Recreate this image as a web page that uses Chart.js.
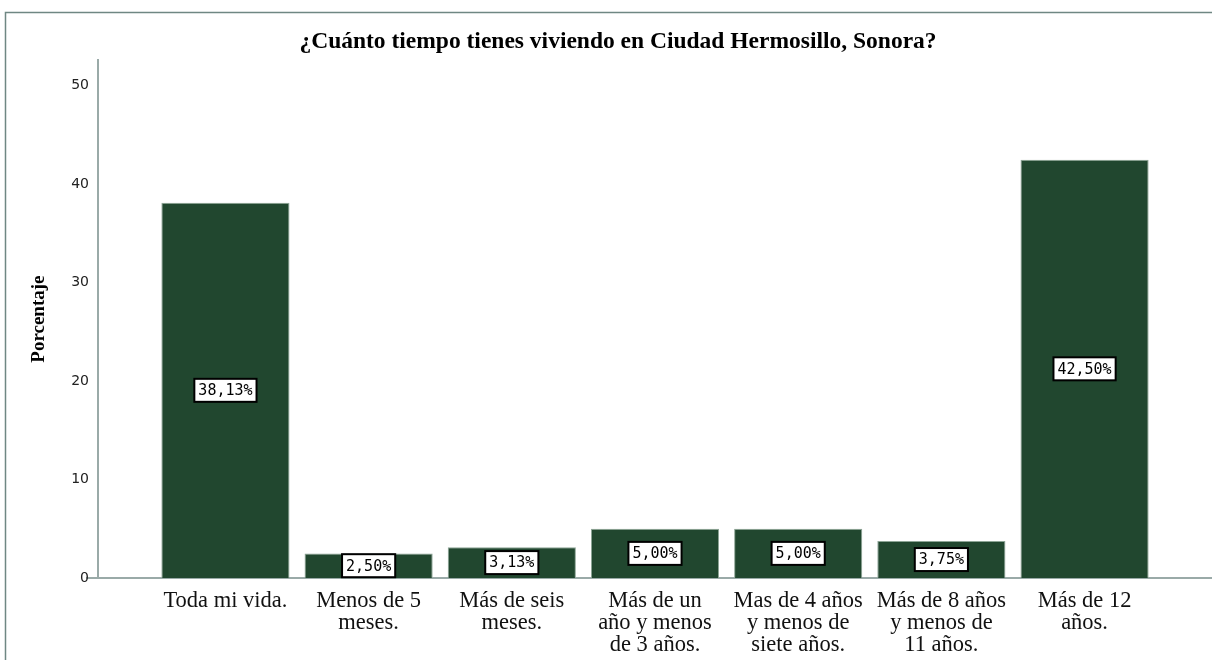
<!DOCTYPE html>
<html>
<head>
<meta charset="utf-8">
<script src="https://cdn.jsdelivr.net/npm/chart.js@4.4.1/dist/chart.umd.min.js"></script>
<style>
  html, body { margin: 0; padding: 0; background: #fff; }
  #wrap { width: 1212px; height: 660px; position: relative; }
</style>
</head>
<body>
<div id="wrap"><canvas id="myChart" width="1212" height="660"></canvas></div>
<script>
// data
var categories = [
  ['Toda mi vida.'],
  ['Menos de 5', 'meses.'],
  ['Más de seis', 'meses.'],
  ['Más de un', 'año y menos', 'de 3 años.'],
  ['Mas de 4 años', 'y menos de', 'siete años.'],
  ['Más de 8 años', 'y menos de', '11 años.'],
  ['Más de 12', 'años.']
];
var percentages = [38.13, 2.50, 3.13, 5.00, 5.00, 3.75, 42.50];
var yTicks = [0, 10, 20, 30, 40, 50];

// frame line around the chart (top and left sides visible)
var framePlugin = {
  id: 'frame',
  beforeDraw: function(chart) {
    var ctx = chart.ctx;
    ctx.save();
    ctx.strokeStyle = '#6f8783';
    ctx.lineWidth = 1.5;
    ctx.beginPath();
    ctx.moveTo(5.5, 660);
    ctx.lineTo(5.5, 12.5);
    ctx.lineTo(1212, 12.5);
    ctx.stroke();
    // little stub of the x axis left of the y axis
    ctx.strokeStyle = '#9aaaa8';
    ctx.lineWidth = 2;
    ctx.beginPath();
    ctx.moveTo(86, chart.chartArea.bottom);
    ctx.lineTo(chart.chartArea.left, chart.chartArea.bottom);
    ctx.stroke();
    ctx.restore();
  }
};

// white boxed percentage labels in the middle of each bar
var boxLabels = {
  id: 'boxLabels',
  afterDatasetsDraw: function(chart) {
    var ctx = chart.ctx;
    var meta = chart.getDatasetMeta(0);
    ctx.save();
    ctx.font = '15px "DejaVu Sans Mono"';
    ctx.textAlign = 'center';
    ctx.textBaseline = 'middle';
    meta.data.forEach(function(bar, i) {
      var text = percentages[i].toFixed(2).replace('.', ',') + '%';
      var w = ctx.measureText(text).width + 8;
      var h = 23;
      var cy = (bar.y + bar.base) / 2;
      ctx.fillStyle = '#ffffff';
      ctx.fillRect(bar.x - w / 2, cy - h / 2, w, h);
      ctx.strokeStyle = '#000000';
      ctx.lineWidth = 2;
      ctx.strokeRect(bar.x - w / 2, cy - h / 2, w, h);
      ctx.fillStyle = '#000000';
      ctx.fillText(text, bar.x, cy + 1);
    });
    ctx.restore();
  }
};

var ctx = document.getElementById('myChart').getContext('2d');
var myChart = new Chart(ctx, {
  type: 'bar',
  data: {
    datasets: [{
      label: 'Porcentaje',
      data: percentages.map(function(v, i) { return { x: i, y: v }; }),
      backgroundColor: '#21472f',
      borderColor: '#8da596',
      borderWidth: 1,
      borderSkipped: 'bottom',
      barPercentage: 0.895,
      categoryPercentage: 1
    }]
  },
  options: {
    responsive: false,
    animation: false,
    layout: { padding: { left: 24, right: 0, top: 0, bottom: 0 } },
    plugins: {
      legend: { display: false },
      tooltip: { enabled: false },
      title: {
        display: true,
        text: '¿Cuánto tiempo tienes viviendo en Ciudad Hermosillo, Sonora?',
        color: '#000',
        font: { family: '"Liberation Serif"', size: 23.5, weight: 'bold', lineHeight: 1.2 },
        padding: { top: 28, bottom: 4 }
      }
    },
    scales: {
      x: {
        type: 'linear',
        offset: false,
        min: -0.89,
        max: 6.89,
        afterBuildTicks: function(scale) {
          scale.ticks = categories.map(function(c, i) { return { value: i }; });
        },
        afterFit: function(scale) {
          scale.height = 82;
          scale.paddingLeft = 0;
          scale.paddingRight = 0;
        },
        grid: { display: false, offset: false },
        border: { display: true, color: '#9aaaa8', width: 2 },
        ticks: {
          autoSkip: false,
          maxRotation: 0,
          padding: 4,
          color: '#111',
          font: { family: '"Liberation Serif"', size: 22.5, lineHeight: '22px' },
          callback: function(v) { return categories[v]; }
        }
      },
      y: {
        min: 0,
        max: 52.6,
        afterBuildTicks: function(scale) {
          scale.ticks = yTicks.map(function(v) { return { value: v }; });
        },
        afterFit: function(scale) { scale.width = 74; },
        grid: { display: false, drawTicks: false },
        border: { display: true, color: '#9aaaa8', width: 2 },
        ticks: {
          padding: 9,
          color: '#222',
          font: { family: '"DejaVu Sans"', size: 14 }
        },
        title: {
          display: true,
          text: 'Porcentaje',
          color: '#000',
          font: { family: '"Liberation Serif"', size: 19, weight: 'bold', lineHeight: 1.2 },
          padding: { top: 4, bottom: 0 }
        }
      }
    }
  },
  plugins: [framePlugin, boxLabels]
});
</script>
</body>
</html>
